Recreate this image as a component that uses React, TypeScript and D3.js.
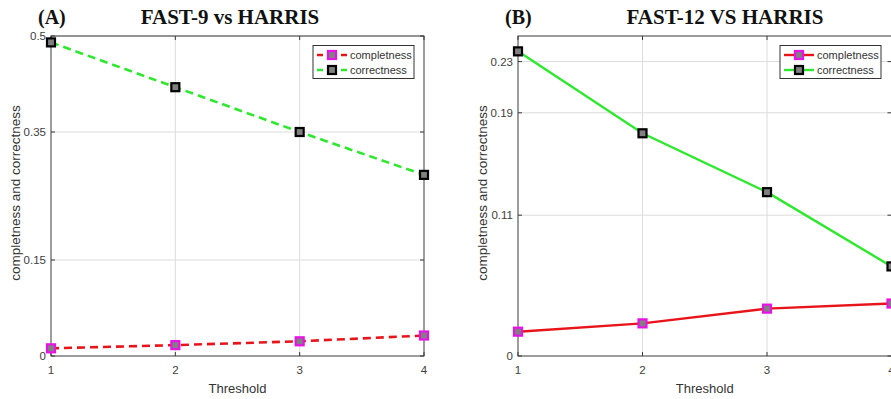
import { useEffect, useRef } from 'react';
import * as d3 from 'd3';

const thresholds = [1, 2, 3, 4];

const fast9Completeness = [0.012, 0.017, 0.023, 0.032];
const fast9Correctness = [0.49, 0.42, 0.35, 0.283];
const fast9Ticks = [0, 0.15, 0.35, 0.5];

const fast12Completeness = [0.019, 0.0255, 0.037, 0.041];
const fast12Correctness = [0.238, 0.174, 0.128, 0.07];
const fast12Ticks = [0, 0.11, 0.19, 0.23];

const seriesNames = ['completness', 'correctness'];

interface PanelSpec {
  tag: string;
  title: string;
  titleX: number;
  tagX: number;
  x0: number;
  x1: number;
  yMax: number;
  ticks: number[];
  completeness: number[];
  correctness: number[];
  dashed: boolean;
  legendX: number;
  labelX: number;
}

const W = 891;
const H = 399;
const TOP = 36;
const BOTTOM = 356;

const RED = '#e8141a';
const GREEN = '#2ee82e';
const MAGENTA = '#e812e8';
const AXIS = '#3a3a3a';
const SANS = '"Liberation Sans", Arial, Helvetica, sans-serif';
const SERIF = '"Liberation Serif", "Times New Roman", serif';

export default function App() {
  const svgRef = useRef<SVGSVGElement>(null);

  useEffect(() => {
    if (!svgRef.current) return;
    const svg = d3.select(svgRef.current);
    svg.selectAll('*').remove();

    const panels: PanelSpec[] = [
      {
        tag: '(A)', title: 'FAST-9 vs HARRIS', titleX: 230, tagX: 38,
        x0: 51, x1: 424, yMax: 0.5, ticks: fast9Ticks,
        completeness: fast9Completeness, correctness: fast9Correctness,
        dashed: true, legendX: 313, labelX: 15,
      },
      {
        tag: '(B)', title: 'FAST-12 VS HARRIS', titleX: 725, tagX: 505,
        x0: 518, x1: 891.5, yMax: 0.25, ticks: fast12Ticks,
        completeness: fast12Completeness, correctness: fast12Correctness,
        dashed: false, legendX: 780, labelX: 482,
      },
    ];

    panels.forEach((p) => {
      const g = svg.append('g');
      const x = d3.scaleLinear().domain([1, 4]).range([p.x0, p.x1]);
      const y = d3.scaleLinear().domain([0, p.yMax]).range([BOTTOM, TOP]);

      // grid
      g.selectAll('.vgrid')
        .data(thresholds.slice(1, -1))
        .enter()
        .append('line')
        .attr('x1', (d) => x(d)).attr('x2', (d) => x(d))
        .attr('y1', TOP).attr('y2', BOTTOM)
        .attr('stroke', '#dcdcdc').attr('stroke-width', 1);
      g.selectAll('.hgrid')
        .data(p.ticks.filter((t) => t > 0))
        .enter()
        .append('line')
        .attr('x1', p.x0).attr('x2', p.x1)
        .attr('y1', (d) => y(d)).attr('y2', (d) => y(d))
        .attr('stroke', '#dcdcdc').attr('stroke-width', 1);

      // box
      g.append('rect')
        .attr('x', p.x0).attr('y', TOP)
        .attr('width', p.x1 - p.x0).attr('height', BOTTOM - TOP)
        .attr('fill', 'none').attr('stroke', AXIS).attr('stroke-width', 1);

      // inward ticks
      p.ticks.forEach((t) => {
        g.append('line').attr('x1', p.x0).attr('x2', p.x0 + 4)
          .attr('y1', y(t)).attr('y2', y(t)).attr('stroke', AXIS);
        g.append('line').attr('x1', p.x1).attr('x2', p.x1 - 4)
          .attr('y1', y(t)).attr('y2', y(t)).attr('stroke', AXIS);
      });
      thresholds.forEach((t) => {
        g.append('line').attr('x1', x(t)).attr('x2', x(t))
          .attr('y1', BOTTOM).attr('y2', BOTTOM - 4).attr('stroke', AXIS);
        g.append('line').attr('x1', x(t)).attr('x2', x(t))
          .attr('y1', TOP).attr('y2', TOP + 4).attr('stroke', AXIS);
      });

      // tick labels
      g.selectAll('.ylab')
        .data(p.ticks)
        .enter()
        .append('text')
        .attr('x', p.x0 - 5)
        .attr('y', (d) => y(d))
        .attr('dy', '0.35em')
        .attr('text-anchor', 'end')
        .attr('font-family', SANS)
        .attr('font-size', '11.5px')
        .attr('fill', '#404040')
        .text((d) => String(d));
      g.selectAll('.xlab')
        .data(thresholds)
        .enter()
        .append('text')
        .attr('x', (d) => x(d))
        .attr('y', BOTTOM + 14)
        .attr('dy', '0.35em')
        .attr('text-anchor', 'middle')
        .attr('font-family', SANS)
        .attr('font-size', '11.5px')
        .attr('fill', '#404040')
        .text((d) => String(d));

      // axis labels
      g.append('text')
        .attr('x', (p.x0 + p.x1) / 2)
        .attr('y', 388)
        .attr('dy', '0.35em')
        .attr('text-anchor', 'middle')
        .attr('font-family', SANS)
        .attr('font-size', '13px')
        .attr('fill', '#333')
        .text('Threshold');
      g.append('text')
        .attr('transform', `translate(${p.labelX},${(TOP + BOTTOM) / 2 - 3}) rotate(-90)`)
        .attr('dy', '0.35em')
        .attr('text-anchor', 'middle')
        .attr('font-family', SANS)
        .attr('font-size', '13.5px')
        .attr('fill', '#333')
        .text('completness and correctness');

      // titles
      g.append('text')
        .attr('x', p.tagX).attr('y', 24)
        .attr('font-family', SERIF).attr('font-weight', 'bold')
        .attr('font-size', '20px').attr('fill', '#111')
        .text(p.tag);
      g.append('text')
        .attr('x', p.titleX).attr('y', 24)
        .attr('text-anchor', 'middle')
        .attr('font-family', SERIF).attr('font-weight', 'bold')
        .attr('font-size', '21px').attr('fill', '#111')
        .text(p.title);

      // lines
      const line = d3.line<number>()
        .x((_, i) => x(thresholds[i]))
        .y((d) => y(d));
      const series = [
        { values: p.completeness, color: RED, edge: MAGENTA },
        { values: p.correctness, color: GREEN, edge: '#000' },
      ];
      series.forEach((s) => {
        g.append('path')
          .datum(s.values)
          .attr('fill', 'none')
          .attr('stroke', s.color)
          .attr('stroke-width', p.dashed ? 2.6 : 2.4)
          .attr('stroke-dasharray', p.dashed ? '8,5' : null)
          .attr('d', line);
        g.selectAll(null)
          .data(s.values)
          .enter()
          .append('rect')
          .attr('x', (_, i) => x(thresholds[i]) - 4)
          .attr('y', (d) => y(d) - 4)
          .attr('width', 8).attr('height', 8)
          .attr('fill', '#808080')
          .attr('stroke', s.edge)
          .attr('stroke-width', 2.2);
      });

      // legend
      const lg = g.append('g');
      lg.append('rect')
        .attr('x', p.legendX).attr('y', 45.5)
        .attr('width', 101).attr('height', 33)
        .attr('fill', '#fff').attr('stroke', '#333').attr('stroke-width', 1);
      series.forEach((s, i) => {
        const ly = 55 + i * 15;
        const lx = p.legendX + 4;
        lg.append('line')
          .attr('x1', lx).attr('x2', lx + 30)
          .attr('y1', ly).attr('y2', ly)
          .attr('stroke', s.color)
          .attr('stroke-width', 2.4)
          .attr('stroke-dasharray', p.dashed ? '6,7,4,7,6' : null);
        lg.append('rect')
          .attr('x', lx + 15 - 4).attr('y', ly - 4)
          .attr('width', 8).attr('height', 8)
          .attr('fill', '#808080')
          .attr('stroke', s.edge)
          .attr('stroke-width', 2.2);
        lg.append('text')
          .attr('x', lx + 33).attr('y', ly)
          .attr('dy', '0.35em')
          .attr('font-family', SANS)
          .attr('font-size', '11px')
          .attr('fill', '#333')
          .text(seriesNames[i]);
      });
    });
  }, []);

  return (
    <svg
      ref={svgRef}
      width={W}
      height={H}
      viewBox={`0 0 ${W} ${H}`}
      style={{ position: 'absolute', left: 0, top: 0, background: '#fff' }}
    />
  );
}
